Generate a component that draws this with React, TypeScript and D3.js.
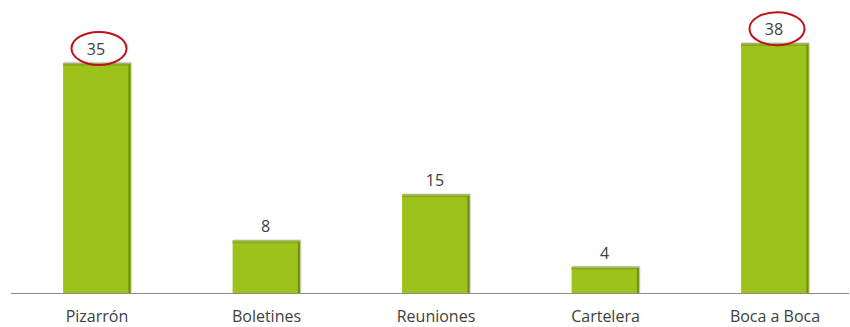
import React from "react";
import * as d3 from "d3";

const categories = ["Pizarrón", "Boletines", "Reuniones", "Cartelera", "Boca a Boca"];
const values = [35, 8, 15, 4, 38];
const highlighted = ["Pizarrón", "Boca a Boca"];

const W = 850;
const H = 327;
const baseY = 293;

export default function App() {
  const x = d3
    .scaleBand<string>()
    .domain(categories)
    .range([12.25, 859.75])
    .paddingInner(0.6)
    .paddingOuter(0.3);
  const y = d3.scaleLinear().domain([0, 40]).range([baseY, 30]);
  const bw = x.bandwidth();
  const font = "'Century Gothic', 'Open Sans', sans-serif";

  return (
    <svg
      width={W}
      height={H}
      style={{ position: "absolute", left: 0, top: 0, background: "#fff" }}
      fontFamily={font}
    >
      {categories.map((c, i) => {
        const x0 = x(c)!;
        const top = y(values[i]);
        const h = baseY - top;
        return (
          <g key={c}>
            <rect x={x0 + 1} y={top - 1} width={bw} height={h + 1} fill="#d9dcd2" />
            <rect x={x0} y={top} width={bw} height={h} fill="#9DC21B" />
            <line x1={x0} x2={x0 + bw} y1={top + 0.5} y2={top + 0.5} stroke="#a7b08c" strokeWidth={1} />
            <line x1={x0} x2={x0 + bw - 1.5} y1={top + 2} y2={top + 2} stroke="#88a71b" strokeWidth={1.5} />
            <line x1={x0 + bw - 1.5} x2={x0 + bw - 1.5} y1={top + 1.5} y2={baseY} stroke="#718e15" strokeWidth={2} />
            <text
              x={x0 + bw / 2 - 1}
              y={top - 8}
              textAnchor="middle"
              fontSize={16}
              fill="#404040"
            >
              {values[i]}
            </text>
            {highlighted.includes(c) && (
              <ellipse
                cx={x0 + bw / 2 + 2}
                cy={top - 14.5}
                rx={27.5}
                ry={16.5}
                fill="none"
                stroke="#c0101a"
                strokeWidth={2}
              />
            )}
            <text
              x={x0 + bw / 2}
              y={322}
              textAnchor="middle"
              fontSize={16}
              fill="#404040"
            >
              {c}
            </text>
          </g>
        );
      })}
      <line x1={11} x2={849} y1={baseY + 0.5} y2={baseY + 0.5} stroke="#8c8c8c" strokeWidth={1} />
    </svg>
  );
}
